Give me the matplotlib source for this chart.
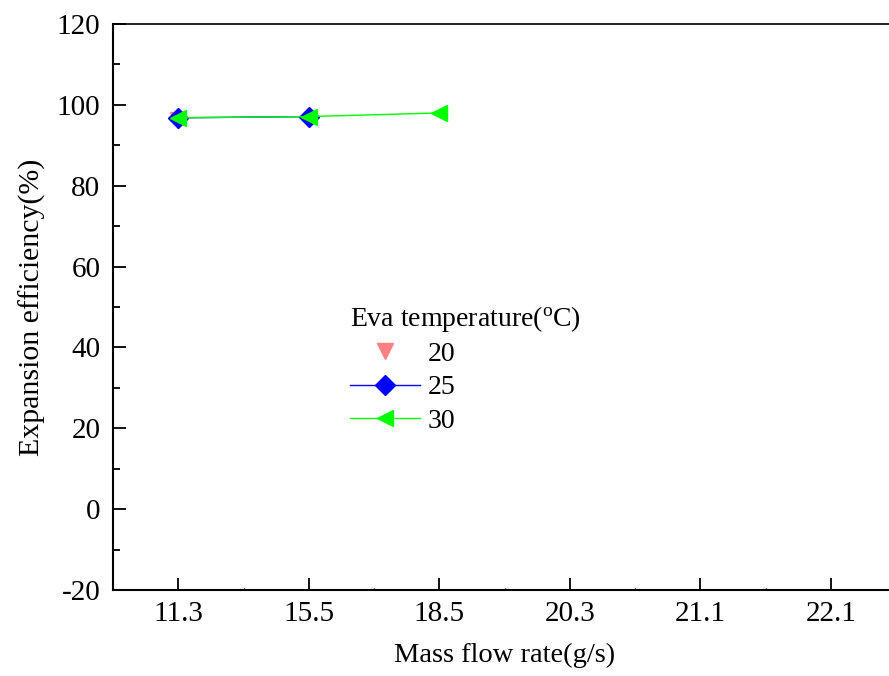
import matplotlib
matplotlib.use("Agg")
import matplotlib.pyplot as plt
from matplotlib.ticker import MultipleLocator

plt.rcParams['font.family'] = ['Liberation Serif', 'DejaVu Serif']
plt.rcParams['mathtext.fontset'] = 'stix'
plt.rcParams['axes.unicode_minus'] = False

flow_labels = ["11.3", "15.5", "18.5", "20.3", "21.1", "22.1"]
eff_20 = [96.3]
eff_25 = [96.8, 97.1]
eff_30 = [96.8, 97.1, 98.0]

fig = plt.figure(figsize=(8.89, 6.76), dpi=100)
W, H = 889, 676
ax = fig.add_axes([113 / W, 1 - 590 / H, (896 - 113) / W, (590 - 24) / H])

x_all = list(range(len(flow_labels)))
ax.plot(x_all[:len(eff_20)], eff_20, linestyle='none', marker='v', color='#FF8080',
        markersize=11, label='20')
ax.plot(x_all[:len(eff_25)], eff_25, '-', color='#0000FF', lw=1, marker='D',
        markersize=10, label='25')
ax.plot(x_all[:len(eff_30)], eff_30, '-', color='#00FF00', lw=1, marker='<',
        markersize=12, label='30')

ax.set_xlim(-0.5, len(flow_labels) - 0.5)
ax.set_ylim(-20, 120)
ax.set_xticks(x_all)
ax.set_xticklabels(flow_labels)
ax.xaxis.set_minor_locator(MultipleLocator(0.5))
ax.yaxis.set_major_locator(MultipleLocator(20))
ax.yaxis.set_minor_locator(MultipleLocator(10))

ax.tick_params(axis='both', which='major', direction='in', length=9, width=1.3,
               labelsize=21)
ax.tick_params(axis='x', which='major', pad=8)
ax.tick_params(axis='y', which='major', pad=9)
ax.tick_params(axis='y', which='minor', direction='in', length=5, width=1.3)
ax.tick_params(axis='x', which='minor', direction='in', length=1.5, width=1.0)
for name, s in ax.spines.items():
    s.set_linewidth(1.2 if name == 'top' else 1.5)

ax.set_xlabel("Mass flow rate(g/s)", fontsize=20.5, labelpad=11)
ax.set_ylabel("Expansion efficiency(%)", fontsize=21.5, labelpad=8)

leg = ax.legend(title="Eva temperature($\\mathregular{^o}$C)", frameon=False,
                fontsize=20, title_fontsize=20, loc='upper left',
                bbox_to_anchor=(0.288, 0.525), handlelength=2.55, handletextpad=0.25,
                labelspacing=0.28, borderaxespad=0)
leg._legend_box.align = "left"

fig.savefig("out.png", dpi=100)
